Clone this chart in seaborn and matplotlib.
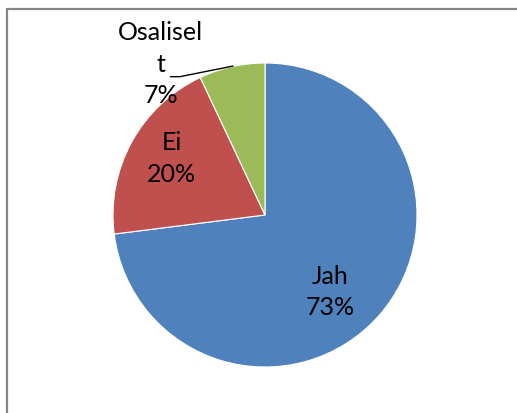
import numpy as np
import matplotlib.pyplot as plt
import seaborn as sns
from matplotlib.lines import Line2D

labels = ["Jah", "Ei", "Osaliselt"]
shown_labels = ["Jah", "Ei", "Osalisel\nt"]
values = [73, 20, 7]
colors = ["#4F81BD", "#C0504D", "#9BBB59"]

sns.set_theme(style="white")
plt.rcParams['font.family'] = ['Lato', 'DejaVu Sans']

fig = plt.figure(figsize=(5.17, 4.14), dpi=100)
W, H = 517, 414
cx, cy, r = 265, 216, 152
ax = fig.add_axes([(cx - r) / W, (H - cy - r) / H, 2 * r / W, 2 * r / H])

wedges, _ = ax.pie(values, colors=colors, startangle=90, counterclock=False,
                   wedgeprops=dict(edgecolor="white", linewidth=0.8))
ax.set_xlim(-1, 1)
ax.set_ylim(-1, 1)
ax.set_aspect("equal")
ax.axis("off")

# label positions (data coords, pie radius = 1)
pos = [(0.43, -0.50), (-0.615, 0.38), (-0.685, 1.0)]
for lab, v, (x, y) in zip(shown_labels, values, pos):
    ax.text(x, y, f"{lab}\n{v}%", ha="center", va="center", fontsize=18,
            color="black", linespacing=1.45, clip_on=False)

# leader line for the small slice
ax.plot([-0.622, -0.56, -0.21], [0.91, 0.91, 0.98], color="black", lw=1.0, clip_on=False)

# chart area border (top and left visible)
fig.add_artist(Line2D([6.5 / W, 1], [1 - 9.5 / H, 1 - 9.5 / H], color="#868686", lw=1.6))
fig.add_artist(Line2D([6.5 / W, 6.5 / W], [0, 1 - 9.5 / H], color="#868686", lw=1.6))

fig.savefig("out.png", dpi=100)
